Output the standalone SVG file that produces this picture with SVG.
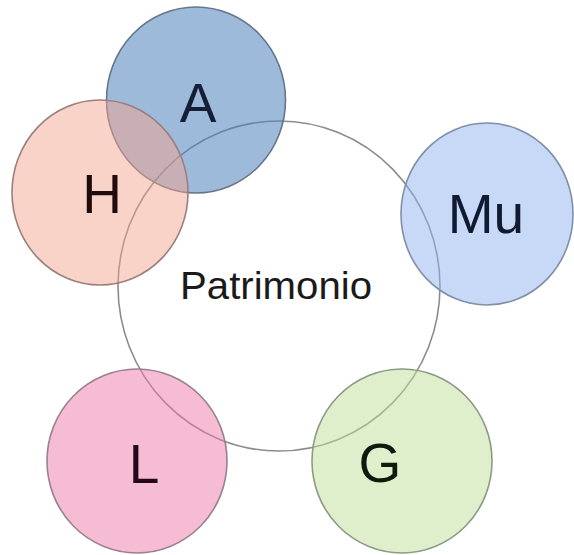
<svg xmlns="http://www.w3.org/2000/svg" width="574" height="555" viewBox="0 0 574 555">
<style>
.lbl{font-family:"Liberation Sans",Arial,sans-serif;font-size:55px;text-anchor:middle}
.c{stroke-width:1.6}
</style>
<rect width="574" height="555" fill="#ffffff"/>
<g id="patrimonio">
<ellipse cx="279" cy="286" rx="161" ry="165" fill="none" stroke="#8c8c8c" stroke-width="1.6"/>
<text x="276" y="299" font-family="Liberation Sans, Arial, sans-serif" font-size="38" text-anchor="middle" fill="#1a1a1a" textLength="192" lengthAdjust="spacingAndGlyphs">Patrimonio</text>
</g>
<g id="A">
<ellipse class="c" cx="196" cy="100" rx="89.5" ry="93" fill="#4f81bd" fill-opacity="0.55" stroke="#667589"/>
<text class="lbl" x="198" y="122" fill="#152038">A</text>
</g>
<g id="H">
<ellipse class="c" cx="100" cy="192.5" rx="88" ry="92.5" fill="#f4a48c" fill-opacity="0.48" stroke="#9a7f7f"/>
<text class="lbl" x="102" y="213" fill="#200c0c">H</text>
</g>
<g id="Mu">
<ellipse class="c" cx="487" cy="214" rx="86" ry="91" fill="#8fb4ee" fill-opacity="0.5" stroke="#7f8fa8"/>
<text class="lbl" x="486" y="233" fill="#101a30">Mu</text>
</g>
<g id="L">
<ellipse class="c" cx="137" cy="461" rx="90" ry="92" fill="#eb7aa8" fill-opacity="0.5" stroke="#9a8090"/>
<text class="lbl" x="144" y="483" fill="#24081a">L</text>
</g>
<g id="G">
<ellipse class="c" cx="402" cy="461" rx="90" ry="92" fill="#bfe09a" fill-opacity="0.5" stroke="#8d9a85"/>
<text class="lbl" x="380" y="482" fill="#0e1a0e">G</text>
</g>
</svg>
